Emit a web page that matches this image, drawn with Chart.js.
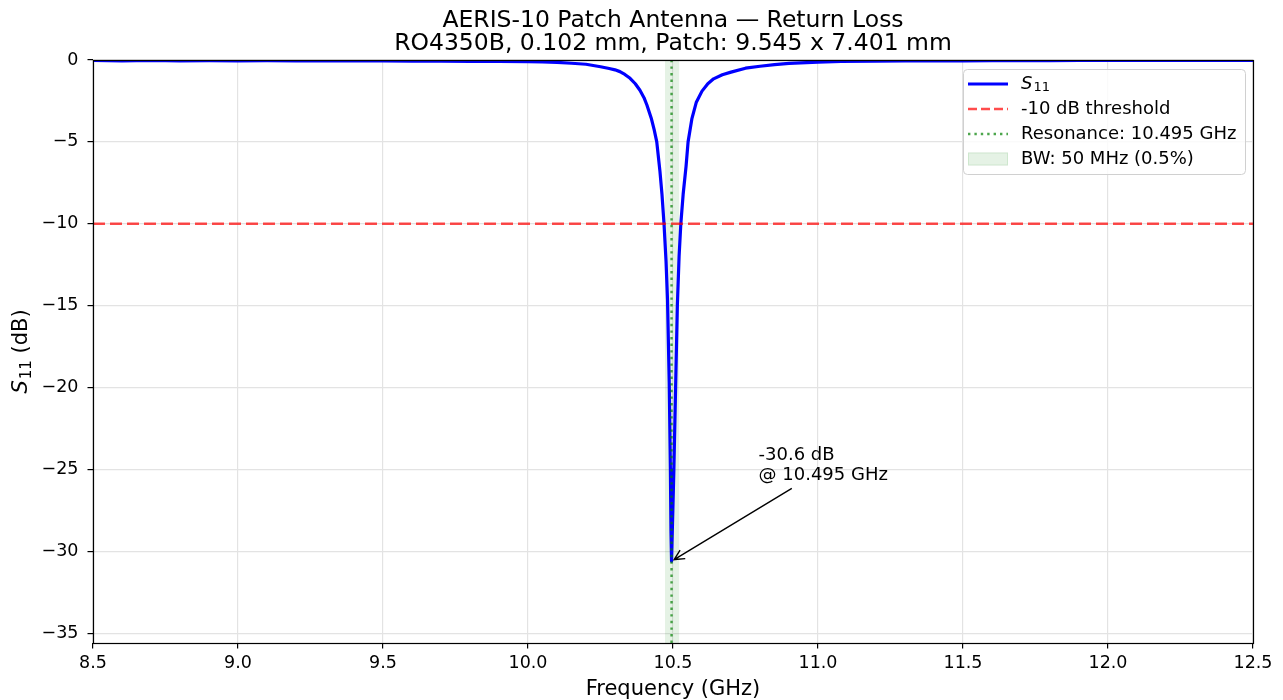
<!DOCTYPE html>
<html>
<head>
<meta charset="utf-8">
<title>AERIS-10 Patch Antenna — Return Loss</title>
<script src="https://cdn.jsdelivr.net/npm/chart.js@4.4.1/dist/chart.umd.min.js"></script>
<style>
  html, body { margin: 0; padding: 0; background: #fff; }
  #wrap { width: 1283px; height: 700px; position: relative; }
</style>
</head>
<body>
<div id="wrap"><canvas id="rl" width="1283" height="700"></canvas></div>
<script>
// simulated sweep, frequency in GHz and S11 in dB
const freqGHz = [
  8.5, 8.6, 8.7, 8.8, 8.9, 9.0, 9.1, 9.2, 9.3, 9.4, 9.5, 9.6, 9.7, 9.8, 9.9,
  10.0, 10.05, 10.1, 10.15, 10.2, 10.25, 10.28, 10.3, 10.317, 10.334, 10.352, 10.37, 10.386,
  10.4, 10.41, 10.425, 10.435, 10.444, 10.455, 10.462, 10.469, 10.476, 10.481, 10.487, 10.491, 10.493, 10.495,
  10.498, 10.503, 10.509, 10.515, 10.521, 10.527, 10.535, 10.545, 10.552, 10.565,
  10.58, 10.6, 10.62, 10.64, 10.67, 10.7, 10.75, 10.8, 10.85, 10.9, 10.96, 11.0, 11.08, 11.2,
  11.3, 11.4, 11.5, 11.6, 11.7, 11.8, 11.9, 12.0, 12.1, 12.2, 12.3, 12.4, 12.5
];
const s11dB = [
  -0.03, -0.05, -0.03, -0.05, -0.04, -0.05, -0.04, -0.05, -0.05, -0.06, -0.06, -0.07, -0.07, -0.08, -0.09,
  -0.10, -0.12, -0.15, -0.20, -0.26, -0.41, -0.52, -0.60, -0.71, -0.88, -1.12, -1.45, -1.85,
  -2.30, -2.75, -3.55, -4.25, -5.00, -6.80, -8.20, -10.0, -12.3, -14.6, -19.7, -25.0, -28.8, -30.6,
  -28.5, -25.0, -20.0, -15.0, -12.0, -10.0, -8.2, -6.5, -5.0, -3.6,
  -2.6, -1.9, -1.45, -1.15, -0.90, -0.74, -0.50, -0.38, -0.28, -0.21, -0.16, -0.13, -0.08, -0.07,
  -0.06, -0.05, -0.05, -0.04, -0.04, -0.04, -0.03, -0.03, -0.03, -0.03, -0.02, -0.02, -0.02
];

const thresholdDB = -10;
const resonanceGHz = 10.495;
const minS11 = -30.6;
const bandEdgesGHz = [10.472, 10.522];

const xRange = [8.5, 12.5];
const yRange = [-35.6, 0];
const xStep = 0.5;
const yStep = 5;

const titleLines = ['AERIS-10 Patch Antenna \u2014 Return Loss', 'RO4350B, 0.102 mm, Patch: 9.545 x 7.401 mm'];
const legendLabels = ['S11', '-10 dB threshold', 'Resonance: 10.495 GHz', 'BW: 50 MHz (0.5%)'];
const annotLines = ['-30.6 dB', '@ 10.495 GHz'];

const FONT = '"DejaVu Sans", "Liberation Sans", sans-serif';
const BLUE = '#0000ff';
const RED = 'rgba(255,0,0,0.7)';
const GREEN = 'rgba(0,128,0,0.7)';
const BAND = 'rgba(0,128,0,0.1)';
const GRID = '#e3e3e3';
const TICK_SIZE = 17.5;

const s11Points = freqGHz.map((f, i) => ({ x: f, y: s11dB[i] }));

const minus = v => String(v).replace('-', '\u2212');

// italic S with a lowered "11", then an optional suffix
function drawS11(ctx, x, y, size, suffix) {
  ctx.font = 'italic ' + size + 'px ' + FONT;
  ctx.fillText('S', x, y);
  let w = ctx.measureText('S').width;
  const sub = Math.round(size * 0.7);
  ctx.font = sub + 'px ' + FONT;
  ctx.fillText('11', x + w + 1, y + size * 0.22);
  w += 1 + ctx.measureText('11').width;
  if (suffix) {
    ctx.font = size + 'px ' + FONT;
    ctx.fillText(suffix, x + w, y);
    w += ctx.measureText(suffix).width;
  }
  return w;
}

function s11Width(ctx, size, suffix) {
  ctx.font = 'italic ' + size + 'px ' + FONT;
  let w = ctx.measureText('S').width + 1;
  ctx.font = Math.round(size * 0.7) + 'px ' + FONT;
  w += ctx.measureText('11').width;
  ctx.font = size + 'px ' + FONT;
  if (suffix) w += ctx.measureText(suffix).width;
  return w;
}

const extras = {
  id: 'extras',
  afterDraw(chart) {
    const { ctx, chartArea: a, scales: { x: xs, y: ys } } = chart;
    ctx.save();

    // spines
    ctx.strokeStyle = '#000';
    ctx.lineWidth = 1.2;
    ctx.strokeRect(a.left + 0.5, a.top + 0.5, a.right - a.left, a.bottom - a.top);

    // titles
    ctx.fillStyle = '#000';
    ctx.textAlign = 'center';
    ctx.textBaseline = 'alphabetic';
    ctx.font = '23.5px ' + FONT;
    const cx = (a.left + a.right) / 2;
    ctx.fillText(titleLines[0], cx, 27);
    ctx.fillText(titleLines[1], cx, 50);

    ctx.font = '21px ' + FONT;
    ctx.fillText('Frequency (GHz)', cx, 695);

    // y axis label, rotated
    ctx.save();
    ctx.translate(22, (a.top + a.bottom) / 2);
    ctx.rotate(-Math.PI / 2);
    ctx.textAlign = 'left';
    ctx.textBaseline = 'middle';
    const lw = s11Width(ctx, 21, ' (dB)');
    drawS11(ctx, -lw / 2, 0, 21, ' (dB)');
    ctx.restore();

    // annotation at the minimum
    ctx.font = '18px ' + FONT;
    ctx.textAlign = 'left';
    ctx.textBaseline = 'alphabetic';
    const tx = xs.getPixelForValue(resonanceGHz + 0.3);
    const ty = ys.getPixelForValue(minS11 + 5.6);
    ctx.fillText(annotLines[0], tx, ty - 9);
    ctx.fillText(annotLines[1], tx, ty + 11);
    const tw = Math.max(ctx.measureText(annotLines[0]).width, ctx.measureText(annotLines[1]).width);
    const bcx = tx + tw / 2, bcy = ty, bh = 19;
    const px = xs.getPixelForValue(resonanceGHz), py = ys.getPixelForValue(minS11);
    const dx = px - bcx, dy = py - bcy;
    const len = Math.hypot(dx, dy);
    const ux = dx / len, uy = dy / len;
    const t0 = bh / uy;
    const sx = bcx + ux * t0, sy = bcy + uy * t0;
    const ex = px - ux * 3, ey = py - uy * 3;
    ctx.strokeStyle = '#000';
    ctx.lineWidth = 1.4;
    ctx.beginPath();
    ctx.moveTo(sx, sy);
    ctx.lineTo(ex, ey);
    const hl = 10, hw = 5;
    const bx = ex - ux * hl, by = ey - uy * hl;
    ctx.moveTo(bx - uy * hw, by + ux * hw);
    ctx.lineTo(ex, ey);
    ctx.lineTo(bx + uy * hw, by - ux * hw);
    ctx.stroke();

    // legend box
    const lx = 963, ly = 69, lwid = 282, lht = 105;
    ctx.beginPath();
    ctx.roundRect(lx + 0.5, ly + 0.5, lwid, lht, 4);
    ctx.fillStyle = 'rgba(255,255,255,0.8)';
    ctx.fill();
    ctx.strokeStyle = '#d0d0d0';
    ctx.lineWidth = 1;
    ctx.stroke();

    const hx0 = 968, hx1 = 1008, txl = 1021;
    const rows = [84, 109, 134, 159];
    ctx.lineCap = 'butt';
    // S11 handle
    ctx.strokeStyle = BLUE; ctx.lineWidth = 3.2; ctx.setLineDash([]);
    ctx.beginPath(); ctx.moveTo(hx0, rows[0]); ctx.lineTo(hx1, rows[0]); ctx.stroke();
    // threshold handle
    ctx.strokeStyle = RED; ctx.lineWidth = 2.4; ctx.setLineDash([9, 4]);
    ctx.beginPath(); ctx.moveTo(hx0, rows[1]); ctx.lineTo(hx1, rows[1]); ctx.stroke();
    // resonance handle
    ctx.strokeStyle = GREEN; ctx.lineWidth = 2.4; ctx.setLineDash([2.4, 4]);
    ctx.beginPath(); ctx.moveTo(hx0, rows[2]); ctx.lineTo(hx1, rows[2]); ctx.stroke();
    ctx.setLineDash([]);
    // band handle
    ctx.fillStyle = BAND; ctx.strokeStyle = BAND; ctx.lineWidth = 1;
    ctx.fillRect(hx0, rows[3] - 6.5, hx1 - hx0, 13);
    ctx.strokeRect(hx0 + 0.5, rows[3] - 6, hx1 - hx0 - 1, 12);

    ctx.fillStyle = '#000';
    ctx.textBaseline = 'middle';
    drawS11(ctx, txl, rows[0], 18, '');
    ctx.font = '18px ' + FONT;
    ctx.fillText(legendLabels[1], txl, rows[1]);
    ctx.fillText(legendLabels[2], txl, rows[2]);
    ctx.fillText(legendLabels[3], txl, rows[3]);

    ctx.restore();
  }
};

new Chart(document.getElementById('rl'), {
  type: 'line',
  data: {
    datasets: [
      {
        label: legendLabels[0],
        data: s11Points,
        borderColor: BLUE,
        borderWidth: 3.2,
        borderJoinStyle: 'round',
        pointRadius: 0,
        tension: 0,
        fill: false,
        order: 3
      },
      {
        label: legendLabels[1],
        data: [{ x: xRange[0], y: thresholdDB }, { x: xRange[1], y: thresholdDB }],
        borderColor: RED,
        borderWidth: 2.4,
        borderDash: [12, 5],
        pointRadius: 0,
        fill: false,
        order: 2
      },
      {
        label: legendLabels[2],
        data: [{ x: resonanceGHz, y: yRange[0] }, { x: resonanceGHz, y: yRange[1] }],
        borderColor: GREEN,
        borderWidth: 2.4,
        borderDash: [2.4, 4.2],
        pointRadius: 0,
        fill: false,
        order: 1
      },
      {
        label: legendLabels[3],
        data: [{ x: bandEdgesGHz[0], y: yRange[1] }, { x: bandEdgesGHz[1], y: yRange[1] }],
        borderWidth: 0,
        borderColor: 'rgba(0,0,0,0)',
        backgroundColor: BAND,
        pointRadius: 0,
        fill: 'start',
        order: 4
      }
    ]
  },
  options: {
    responsive: false,
    animation: false,
    devicePixelRatio: 1,
    layout: { padding: { left: 0, right: 30, top: 60, bottom: 0 } },
    plugins: {
      legend: { display: false },
      title: { display: false },
      tooltip: { enabled: false }
    },
    scales: {
      x: {
        type: 'linear',
        min: xRange[0],
        max: xRange[1],
        afterFit: s => { s.height = 57; },
        border: { display: false },
        grid: { color: GRID, lineWidth: 1.2, tickColor: '#000', tickLength: 5.5, tickWidth: 1.2 },
        ticks: {
          stepSize: xStep,
          padding: 4,
          color: '#000',
          font: { family: FONT, size: TICK_SIZE },
          maxRotation: 0,
          callback: v => v.toFixed(1)
        }
      },
      y: {
        type: 'linear',
        min: yRange[0],
        max: yRange[1],
        afterFit: s => { s.width = 93; },
        border: { display: false },
        grid: { color: GRID, lineWidth: 1.2, tickColor: '#000', tickLength: 5.5, tickWidth: 1.2 },
        ticks: {
          stepSize: yStep,
          includeBounds: false,
          padding: 9,
          color: '#000',
          font: { family: FONT, size: TICK_SIZE },
          callback: v => minus(Math.round(v))
        }
      }
    }
  },
  plugins: [extras]
});
</script>
</body>
</html>
